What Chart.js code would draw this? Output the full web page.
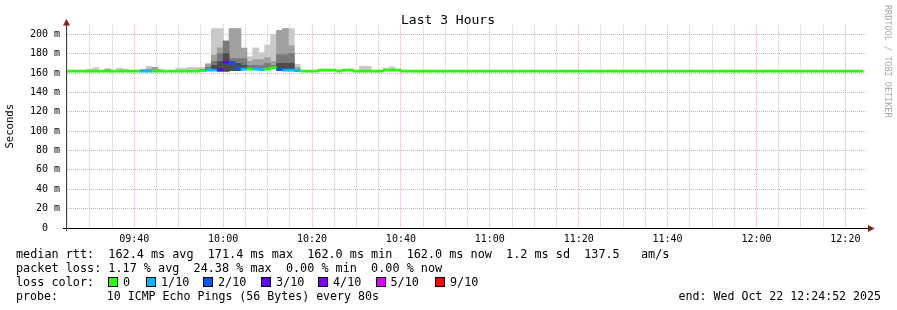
<!DOCTYPE html>
<html><head><meta charset="utf-8">
<script src="https://cdn.jsdelivr.net/npm/chart.js@4.4.1/dist/chart.umd.min.js"></script>
<style>
html,body{margin:0;padding:0;background:#fff;}
canvas{display:block;}
</style></head>
<body>
<canvas id="c" width="897" height="310"></canvas>
<script>
// ---------------- data ----------------
const chartTitle = 'Last 3 Hours';
const yAxisTitle = 'Seconds';
const startTime = '09:24:52';
const endTime = '12:24:52';
const firstStepCenter = '09:24:40';
const stepSeconds = 80;

// median rtt per 80 s step (ms)
const medianRtt = [
 162,162,162,162,162,162,162,162,162,162,162,162,162,162,162,
 162,162,162,162,162,162,162,162,162.5,163,163,163.5,171,170,165,
 164,164,164,163.5,164,165.5,163.5,163,163,162.5,162,162,162,163,163,
 163,162,163,163,162,162,162,162,162,163,163,163,162,162,162,
 162,162,162,162,162,162,162,162,162,162,162,162,162,162,162,
 162,162,162,162,162,162,162,162,162,162,162,162,162,162,162,
 162,162,162,162,162,162,162,162,162,162,162,162,162,162,162,
 162,162,162,162,162,162,162,162,162,162,162,162,162,162,162,
 162,162,162,162,162,162,162,162,162,162,162,162,162,162,162
];
// lost pings out of 10 per step
const lossCount = [
 0,0,0,0,0,0,0,0,0,0,0,0,0,1,1,
 0,0,0,0,0,0,0,0,0,1,1,3,3,2,2,
 1,0,1,1,0,0,2,1,1,1,0,0,0,0,0,
 0,0,0,0,0,0,0,0,0,0,0,0,0,0,0,
 0,0,0,0,0,0,0,0,0,0,0,0,0,0,0,
 0,0,0,0,0,0,0,0,0,0,0,0,0,0,0,
 0,0,0,0,0,0,0,0,0,0,0,0,0,0,0,
 0,0,0,0,0,0,0,0,0,0,0,0,0,0,0,
 0,0,0,0,0,0,0,0,0,0,0,0,0,0,0
];
// smoke: lowest ping and tops of the four smoke shades (light -> dark)
const smokeLow = [
 162,162,162,162,162,162,162,162,162,162,162,162,162,162,162,
 162,162,162,162,162,162,162,162,162,163,163,162,162,162.5,162.5,
 164,164,164,163.5,164,164.5,163.5,163,163,162.5,162,162,162,163,163,
 163,162,163,163,162,162,162,162,162,163,163,163,162,162,162,
 162,162,162,162,162,162,162,162,162,162,162,162,162,162,162,
 162,162,162,162,162,162,162,162,162,162,162,162,162,162,162,
 162,162,162,162,162,162,162,162,162,162,162,162,162,162,162,
 162,162,162,162,162,162,162,162,162,162,162,162,162,162,162,
 162,162,162,162,162,162,162,162,162,162,162,162,162,162,162
];
const smokeTop1 = [
 162,162,162,162,164,165.5,162,164,162,165,164,162,162,163.5,167,
 166,164,162,162,165,165,166,166,166,170,206,206,193,206,206,
 186,177,186,181,189,200,204,206,206,169,162,162,162,163,163,
 163,162,163,163,162,167,167,162,162,165,166.5,163,162,162,162,
 162,162,162,162,162,162,162,162,162,162,162,162,162,162,162,
 162,162,162,162,162,162,162,162,162,162,162,162,162,162,162,
 162,162,162,162,162,162,162,162,162,162,162,162,162,162,162,
 162,162,162,162,162,162,162,162,162,162,162,162,162,162,162,
 162,162,162,162,162,162,162,162,162,162,162,162,162,162,162
];
const smokeTop2 = [
 162,162,162,162,162,162,162,164,162,162,162,162,162,163.5,164,
 166,162,162,162,162,162,162,162,162.5,169,178.5,186,193,206,206,
 185.5,172,174,174,176,172,204,206,188,166,162,162,162,163,163,
 163,162,163,163,162,162,162,162,162,163,163,163,162,162,162,
 162,162,162,162,162,162,162,162,162,162,162,162,162,162,162,
 162,162,162,162,162,162,162,162,162,162,162,162,162,162,162,
 162,162,162,162,162,162,162,162,162,162,162,162,162,162,162,
 162,162,162,162,162,162,162,162,162,162,162,162,162,162,162,
 162,162,162,162,162,162,162,162,162,162,162,162,162,162,162
];
const smokeTop3 = [
 162,162,162,162,162,162,162,162,162,162,162,162,162,162,162,
 162,162,162,162,162,162,162,162,162.5,166,172,180,193,175,175,
 175,168,168,168,170,168,179,179,180,162.5,162,162,162,163,163,
 163,162,163,163,162,162,162,162,162,163,163,163,162,162,162,
 162,162,162,162,162,162,162,162,162,162,162,162,162,162,162,
 162,162,162,162,162,162,162,162,162,162,162,162,162,162,162,
 162,162,162,162,162,162,162,162,162,162,162,162,162,162,162,
 162,162,162,162,162,162,162,162,162,162,162,162,162,162,162,
 162,162,162,162,162,162,162,162,162,162,162,162,162,162,162
];
const smokeTop4 = [
 162,162,162,162,162,162,162,162,162,162,162,162,162,162,162,
 162,162,162,162,162,162,162,162,163.5,163,168,172,180,172,170,
 168,164,164,163.5,164,165.5,170,170,170,162.5,162,162,162,163,163,
 163,162,163,163,162,162,162,162,162,163,163,163,162,162,162,
 162,162,162,162,162,162,162,162,162,162,162,162,162,162,162,
 162,162,162,162,162,162,162,162,162,162,162,162,162,162,162,
 162,162,162,162,162,162,162,162,162,162,162,162,162,162,162,
 162,162,162,162,162,162,162,162,162,162,162,162,162,162,162,
 162,162,162,162,162,162,162,162,162,162,162,162,162,162,162
];

const lossKeys   = [0, 1, 2, 3, 4, 5, 9];
const lossLabels = ['0', '1/10', '2/10', '3/10', '4/10', '5/10', '9/10'];
const lossColors = ['#26ff00', '#00b8ff', '#0059ff', '#5e00ff', '#7e00ff', '#dd00ff', '#ff0000'];

const xTickLabels = ['09:40', '10:00', '10:20', '10:40', '11:00', '11:20', '11:40', '12:00', '12:20'];
const yTickValues = [0, 20, 40, 60, 80, 100, 120, 140, 160, 180, 200];
const yTickLabels = ['0  ', '20 m', '40 m', '60 m', '80 m', '100 m', '120 m', '140 m', '160 m', '180 m', '200 m'];

const legendRtt  = 'median rtt:  162.4 ms avg  171.4 ms max  162.0 ms min  162.0 ms now  1.2 ms sd  137.5   am/s';
const legendLoss = 'packet loss: 1.17 % avg  24.38 % max  0.00 % min  0.00 % now';
const legendLossColor = 'loss color:';
const legendProbe = 'probe:       10 ICMP Echo Pings (56 Bytes) every 80s';
const legendEnd = 'end: Wed Oct 22 12:24:52 2025';
const creditText = 'RRDTOOL / TOBI OETIKER';

// ---------------- styles ----------------
const MONO = '"DejaVu Sans Mono", monospace';
const MAJOR_GRID = '#eba3a3';
const MINOR_GRID = '#c8c8c8';
const smokeShades = ['#c9c9c9', '#a0a0a0', '#7a7a7a', '#4c4c4c'];
const MEDIAN_HALF = 1.1;
const X_MINOR = 300, Y_MINOR = 10, Y_MAX = 210;
const PAD_TOP = 24.6;

const toSec = s => { const p = s.split(':').map(Number); return p[0]*3600 + p[1]*60 + (p[2] || 0); };
const stepTimes = medianRtt.map((_, i) => toSec(firstStepCenter) + i * stepSeconds);
const xTickSecs = xTickLabels.map(toSec);
const lossColor = n => { let c = lossColors[0]; lossKeys.forEach((k, i) => { if (n >= k) c = lossColors[i]; }); return c; };

function smokeBand(tops, color, order) {
  return {
    data: stepTimes.map((t, i) => ({ x: t, y: tops[i] > smokeLow[i] ? [smokeLow[i], tops[i]] : null })),
    backgroundColor: color, order: order, grouped: false,
    barPercentage: 1, categoryPercentage: 1, borderWidth: 0
  };
}

const datasets = [
  {
    data: stepTimes.map((t, i) => ({ x: t, y: [medianRtt[i] - MEDIAN_HALF, medianRtt[i] + MEDIAN_HALF] })),
    backgroundColor: ctx => lossColor(lossCount[ctx.dataIndex]),
    order: 0, grouped: false, barPercentage: 1, categoryPercentage: 1, borderWidth: 0
  },
  smokeBand(smokeTop4, smokeShades[3], 1),
  smokeBand(smokeTop3, smokeShades[2], 2),
  smokeBand(smokeTop2, smokeShades[1], 3),
  smokeBand(smokeTop1, smokeShades[0], 4)
];

const decor = {
  id: 'decor',
  afterDatasetsDraw(chart) {
    const { ctx, chartArea: a } = chart;
    ctx.save();
    ctx.strokeStyle = '#000'; ctx.lineWidth = 1;
    ctx.beginPath(); ctx.moveTo(a.left - 4, Math.round(a.bottom) + 0.5); ctx.lineTo(a.right + 2, Math.round(a.bottom) + 0.5); ctx.stroke();
    ctx.strokeStyle = '#444';
    ctx.beginPath(); ctx.moveTo(Math.round(a.left) - 0.5, a.bottom + 3); ctx.lineTo(Math.round(a.left) - 0.5, a.top - 3); ctx.stroke();
    ctx.fillStyle = '#8b1c1c';
    const ax = Math.round(a.left) - 0.5, ay = Math.round(a.bottom) + 0.5;
    ctx.beginPath(); ctx.moveTo(ax - 3.5, a.top + 1); ctx.lineTo(ax + 3.5, a.top + 1); ctx.lineTo(ax, a.top - 5.5); ctx.closePath(); ctx.fill();
    ctx.beginPath(); ctx.moveTo(a.right + 1, ay - 3.5); ctx.lineTo(a.right + 1, ay + 3.5); ctx.lineTo(a.right + 7.5, ay); ctx.closePath(); ctx.fill();
    ctx.restore();
  },
  afterDraw(chart) {
    const { ctx } = chart;
    ctx.save();
    ctx.fillStyle = '#000';
    ctx.textBaseline = 'alphabetic';
    ctx.font = '13px ' + MONO; ctx.textAlign = 'center';
    ctx.fillText(chartTitle, 448, 24);
    ctx.textAlign = 'left';
    ctx.font = '11.8px ' + MONO;
    ctx.fillText(legendRtt, 16, 258);
    ctx.fillText(legendLoss, 16, 272);
    ctx.fillText(legendLossColor, 16, 286);
    const boxX = [108, 146, 203, 261, 318, 376, 435];
    const labX = [123, 161, 218, 276, 333, 390.5, 450];
    lossLabels.forEach((l, i) => {
      ctx.fillStyle = lossColors[i]; ctx.fillRect(boxX[i], 277, 10, 10);
      ctx.strokeStyle = '#000'; ctx.lineWidth = 1; ctx.strokeRect(boxX[i] + 0.5, 277.5, 9, 9);
      ctx.fillStyle = '#000'; ctx.fillText(l, labX[i], 286);
    });
    ctx.font = '11.6px ' + MONO;
    ctx.fillText(legendProbe, 16, 300);
    ctx.textAlign = 'right';
    ctx.fillText(legendEnd, 881, 300);
    ctx.translate(887, 5); ctx.rotate(Math.PI / 2);
    ctx.font = '8.5px ' + MONO; ctx.fillStyle = '#a8a8a8'; ctx.textAlign = 'left'; ctx.textBaseline = 'middle';
    ctx.fillText(creditText, 0, 0);
    ctx.restore();
  }
};

new Chart(document.getElementById('c'), {
  type: 'bar',
  data: { datasets },
  plugins: [decor],
  options: {
    responsive: false, animation: false, events: [], devicePixelRatio: 1,
    layout: { padding: { top: PAD_TOP, right: 30, bottom: 0, left: 0 } },
    plugins: { legend: { display: false }, tooltip: { enabled: false }, title: { display: false } },
    scales: {
      x: {
        type: 'linear', min: toSec(startTime), max: toSec(endTime), offset: false,
        grid: { offset: false, drawTicks: false, lineWidth: 1,
          color: c => xTickSecs.includes(c.tick && c.tick.value) ? MAJOR_GRID : MINOR_GRID },
        border: { display: false, dash: [1, 1], dashOffset: Math.ceil(PAD_TOP) - PAD_TOP },
        ticks: { autoSkip: false, maxRotation: 0, minRotation: 0, padding: 5, color: '#000',
          font: { family: MONO, size: 10 },
          callback: v => { const i = xTickSecs.indexOf(v); return i >= 0 ? xTickLabels[i] : ''; } },
        afterBuildTicks: s => { const t = []; for (let v = Math.ceil(s.min / X_MINOR) * X_MINOR; v < s.max; v += X_MINOR) t.push({ value: v }); s.ticks = t; },
        afterFit: s => { s.height = 82; }
      },
      y: {
        type: 'linear', min: 0, max: Y_MAX,
        grid: { drawTicks: true, tickLength: 4, lineWidth: 1,
          color: c => { const v = c.tick && c.tick.value; return v === 0 ? 'rgba(0,0,0,0)' : (yTickValues.includes(v) ? MAJOR_GRID : MINOR_GRID); },
          tickColor: c => (c.tick && c.tick.value === 0) ? '#000' : 'rgba(0,0,0,0)' },
        border: { display: false, dash: [1, 1] },
        ticks: { padding: 3, color: '#000', font: { family: MONO, size: 10 },
          callback: v => { const i = yTickValues.indexOf(v); return i >= 0 ? yTickLabels[i] : ''; } },
        title: { display: true, text: yAxisTitle, color: '#000', font: { family: MONO, size: 10.6 }, padding: { top: 4, bottom: 0 } },
        afterBuildTicks: s => { const t = []; for (let v = 0; v < Y_MAX; v += Y_MINOR) t.push({ value: v }); s.ticks = t; },
        afterFit: s => { s.width = 67; }
      }
    }
  }
});
</script>
</body></html>
